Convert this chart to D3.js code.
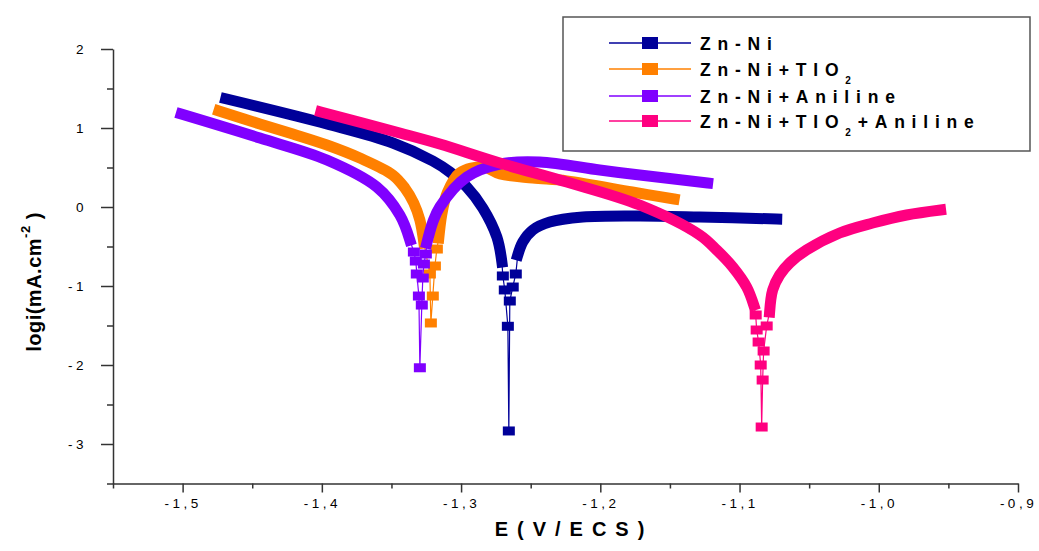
<!DOCTYPE html>
<html lang="en">
  <head>
    <meta charset="UTF-8" />
    <title>Zn-Ni polarisation curves</title>
    <style>
      body { margin: 0; background: #fff; }
      text { font-family: "Liberation Sans", Arial, sans-serif; }
    </style>
  </head>
  <body>
    <svg width="1039" height="551" xmlns="http://www.w3.org/2000/svg"></svg>
    <script src="https://cdn.jsdelivr.net/npm/d3@7"></script>
    <script>
      // [E (V/ECS), log i]
      // each curve: dense left branch, sparse points round Ecorr, dense right branch
      const znNiLeft = [[-1.469, 1.37], [-1.3964, 1.051], [-1.349, 0.81], [-1.3203, 0.582], [-1.3081, 0.443], [-1.2959, 0.253], [-1.2844, -0.013], [-1.2743, -0.380], [-1.2707, -0.696]];
      const znNiTip = [[-1.270, -0.873], [-1.2686, -1.05], [-1.2664, -1.51], [-1.2657, -2.835], [-1.265, -1.19], [-1.2629, -1.013], [-1.2607, -0.848]];
      const znNiRight = [[-1.2593, -0.608], [-1.2557, -0.443], [-1.2485, -0.291], [-1.2363, -0.19], [-1.2126, -0.127], [-1.1717, -0.114], [-1.1286, -0.127], [-1.0733, -0.152]];

      const tio2Left = [[-1.4739, 1.215], [-1.4445, 1.051], [-1.4208, 0.924], [-1.3964, 0.785], [-1.3727, 0.62], [-1.349, 0.405], [-1.3404, 0.241], [-1.334, 0.051], [-1.3296, -0.165], [-1.3267, -0.456]];
      const tio2Tip = [[-1.3224, -0.848], [-1.3217, -1.468], [-1.3203, -1.127], [-1.3188, -0.747], [-1.3174, -0.532]];
      const tio2Right = [[-1.316, -0.392], [-1.3138, -0.089], [-1.310, 0.177], [-1.301, 0.43], [-1.284, 0.506], [-1.272, 0.418], [-1.2485, 0.367], [-1.224, 0.33], [-1.177, 0.19], [-1.147, 0.101]];

      const anilineLeft = [[-1.501, 1.177], [-1.4445, 0.873], [-1.3964, 0.595], [-1.3605, 0.253], [-1.344, -0.101], [-1.3368, -0.418]];
      const anilineTip = [[-1.3339, -0.57], [-1.3325, -0.684], [-1.3318, -0.848], [-1.3303, -1.127], [-1.3296, -2.035], [-1.3282, -1.241], [-1.3275, -0.899], [-1.3267, -0.722], [-1.3253, -0.595]];
      const anilineRight = [[-1.3246, -0.456], [-1.3203, -0.19], [-1.3153, 0.0], [-1.2959, 0.38], [-1.2722, 0.544], [-1.2435, 0.57], [-1.2004, 0.468], [-1.1717, 0.405], [-1.1229, 0.304]];

      const mixLeft = [[-1.4007, 1.203], [-1.344, 0.937], [-1.3153, 0.797], [-1.2722, 0.557], [-1.2241, 0.316], [-1.1717, 0.025], [-1.1286, -0.354], [-1.1164, -0.544], [-1.1049, -0.759], [-1.0949, -1.013], [-1.0898, -1.241]];
      const mixTip = [[-1.0884, -1.367], [-1.0877, -1.557], [-1.0863, -1.709], [-1.0848, -2.0], [-1.0841, -2.785], [-1.0834, -2.19], [-1.0827, -1.823], [-1.0805, -1.506]];
      const mixRight = [[-1.0784, -1.329], [-1.0762, -1.051], [-1.0712, -0.861], [-1.064, -0.709], [-1.0518, -0.544], [-1.0281, -0.329], [-1.0044, -0.203], [-0.98, -0.101], [-0.9556, -0.038]];

      const seriesNames = ["Zn-Ni", "Zn-Ni+TIO2", "Zn-Ni+Aniline", "Zn-Ni+TIO2+Aniline"];
      const seriesColors = ["#000099", "#ff8000", "#8000ff", "#ff0080"];

      const xMajor = [-1.5, -1.4, -1.3, -1.2, -1.1, -1.0, -0.9];
      const xMinor = [-1.55, -1.45, -1.35, -1.25, -1.15, -1.05, -0.95];
      const yMajor = [-3, -2, -1, 0, 1, 2];
      const yMinor = [-3.5, -2.5, -1.5, -0.5, 0.5, 1.5];

      const series = [
        { left: znNiLeft, tip: znNiTip, right: znNiRight },
        { left: tio2Left, tip: tio2Tip, right: tio2Right },
        { left: anilineLeft, tip: anilineTip, right: anilineRight },
        { left: mixLeft, tip: mixTip, right: mixRight }
      ];

      const svg = d3.select("svg");
      const x = d3.scaleLinear().domain([-1.55, -0.9]).range([113, 1018]);
      const y = d3.scaleLinear().domain([-3.5, 2]).range([483.5, 49]);

      const axisColor = "#333";
      const fmtX = d => (d < 0 ? "-" : "") + Math.abs(d).toFixed(1).replace(".", ",");
      const fmtY = d => (d < 0 ? "-" : "") + Math.abs(d);

      // axes
      const gx = svg.append("g").attr("transform", "translate(0,483.5)");
      gx.call(d3.axisBottom(x).tickValues(xMajor).tickFormat(fmtX).tickSize(9).tickSizeOuter(0).tickPadding(6));
      gx.append("g").call(d3.axisBottom(x).tickValues(xMinor).tickFormat("").tickSize(5))
        .select(".domain").remove();

      const gy = svg.append("g").attr("transform", "translate(113,0)");
      gy.call(d3.axisLeft(y).tickValues(yMajor).tickFormat(fmtY).tickSize(12).tickSizeOuter(0).tickPadding(14));
      gy.append("g").call(d3.axisLeft(y).tickValues(yMinor).tickFormat("").tickSize(6))
        .select(".domain").remove();

      svg.selectAll(".domain, .tick line").attr("stroke", axisColor).attr("stroke-width", 1.5);
      svg.selectAll(".tick text")
        .attr("fill", "#000")
        .style("font-size", "13.5px")
        .style("letter-spacing", "3.5px")
        .style("font-family", '"Liberation Sans", Arial, sans-serif');

      // axis titles
      svg.append("text")
        .attr("x", 574).attr("y", 536)
        .attr("text-anchor", "middle")
        .style("font-size", "20px").style("font-weight", "bold").style("letter-spacing", "9px")
        .text("E(V/ECS)");

      const yTitle = svg.append("text")
        .attr("transform", "translate(41,282) rotate(-90)")
        .attr("text-anchor", "middle")
        .style("font-size", "20px").style("font-weight", "bold").style("letter-spacing", "0.5px");
      yTitle.append("tspan").text("logi(mA.cm");
      yTitle.append("tspan").attr("dy", -11).style("font-size", "13px").text("-2");
      yTitle.append("tspan").attr("dy", 11).text(" )");

      // curves
      const band = d3.line().x(d => x(d[0])).y(d => y(d[1])).curve(d3.curveCatmullRom.alpha(0.5));
      const thin = d3.line().x(d => x(d[0])).y(d => y(d[1]));
      const mw = 12, mh = 9;

      series.forEach((s, i) => {
        const c = seriesColors[i];
        const g = svg.append("g");
        const joint = [s.left[s.left.length - 1], ...s.tip, s.right[0]];
        g.append("path").attr("d", thin(joint))
          .attr("fill", "none").attr("stroke", c).attr("stroke-width", 1.2);
        [s.left, s.right].forEach(b => {
          g.append("path").attr("d", band(b))
            .attr("fill", "none").attr("stroke", c)
            .attr("stroke-width", 11).attr("stroke-linejoin", "round").attr("stroke-linecap", "square");
        });
        g.selectAll("rect").data(s.tip).join("rect")
          .attr("x", d => x(d[0]) - mw / 2).attr("y", d => y(d[1]) - mh / 2)
          .attr("width", mw).attr("height", mh).attr("fill", c);
      });

      // legend
      const lg = svg.append("g");
      lg.append("rect").attr("x", 563).attr("y", 17).attr("width", 467).attr("height", 134)
        .attr("fill", "#fff").attr("stroke", "#555").attr("stroke-width", 1.5);
      const rowsY = [43, 69, 96, 121];
      seriesNames.forEach((name, i) => {
        const cy = rowsY[i];
        lg.append("line").attr("x1", 609).attr("x2", 691).attr("y1", cy).attr("y2", cy)
          .attr("stroke", seriesColors[i]).attr("stroke-width", 1.5);
        lg.append("rect").attr("x", 642).attr("y", cy - 6).attr("width", 16).attr("height", 12)
          .attr("fill", seriesColors[i]);
        const t = lg.append("text").attr("x", 700).attr("y", cy + 7)
          .style("font-size", "17.5px").style("font-weight", "bold").style("letter-spacing", "6.8px");
        const parts = name.split("2");
        parts.forEach((p, k) => {
          if (k > 0) {
            t.append("tspan").attr("dy", 8).style("font-size", "10px").text("2");
            t.append("tspan").attr("dy", -8).text(p);
          } else {
            t.append("tspan").text(p);
          }
        });
      });
    </script>
  </body>
</html>
